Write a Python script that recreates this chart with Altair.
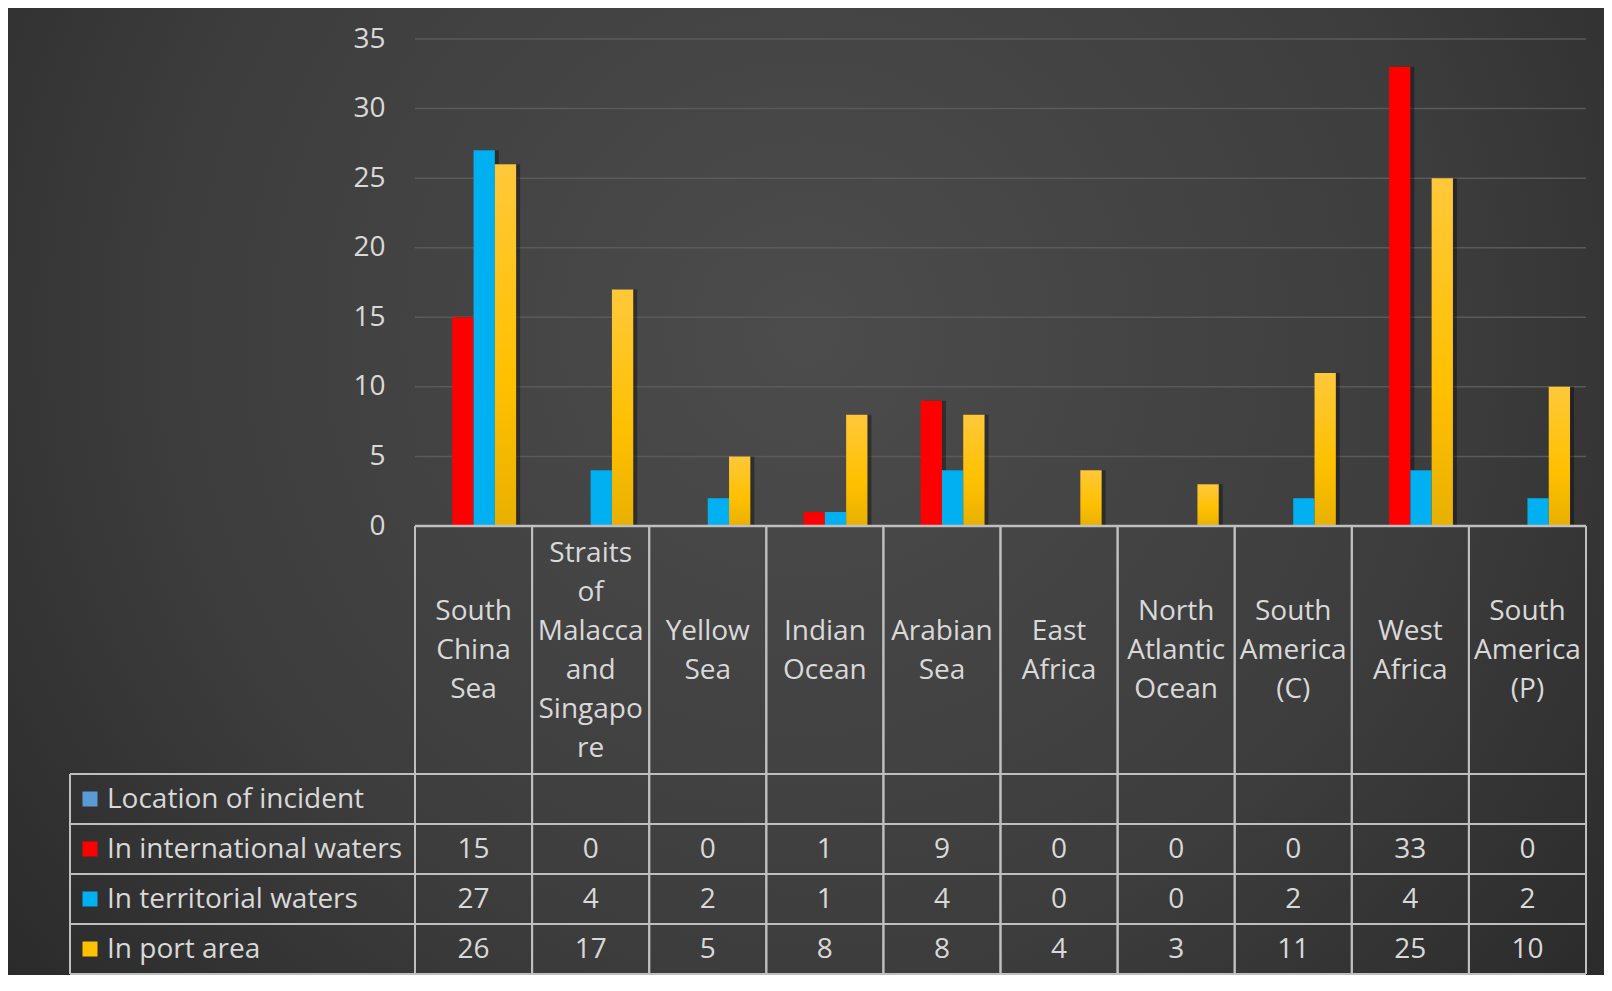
import altair as alt
import pandas as pd

# ---------------- data ----------------
categories = ["South China Sea", "Straits of Malacca and Singapore", "Yellow Sea",
              "Indian Ocean", "Arabian Sea", "East Africa", "North Atlantic Ocean",
              "South America (C)", "West Africa", "South America (P)"]
header_labels = ["South\nChina\nSea", "Straits\nof\nMalacca\nand\nSingapo\nre",
                 "Yellow\nSea", "Indian\nOcean", "Arabian\nSea", "East\nAfrica",
                 "North\nAtlantic\nOcean", "South\nAmerica\n(C)", "West\nAfrica",
                 "South\nAmerica\n(P)"]
series_names = ["Location of incident", "In international waters",
                "In territorial waters", "In port area"]
international = [15, 0, 0, 1, 9, 0, 0, 0, 33, 0]
territorial = [27, 4, 2, 1, 4, 0, 0, 2, 4, 2]
port_area = [26, 17, 5, 8, 8, 4, 3, 11, 25, 10]
series_colors = ["#5B9BD5", "#FF0000", "#00B0F0", "#FFC000"]
y_ticks = [0, 5, 10, 15, 20, 25, 30, 35]

# ---------------- layout ----------------
W = 1171          # plot width (category columns)
STEP = W / len(categories)
BAR_H = 487       # bar area height
HDR_H = 248       # header row of data table
ROW_H = 50        # data table row height
H = BAR_H + HDR_H + 4 * ROW_H
LEFT_COL = 345    # width of the series-name column
LINE_H = 39       # line height of wrapped header labels
SHADOW = 4        # bar shadow offset (px)
FONT = "Open Sans"
FS = 28
TXT = "#d9d9d9"
LINE = "#bfbfbf"

rows = []
for i, c in enumerate(categories):
    for s, vals in zip(series_names[1:], [international, territorial, port_area]):
        rows.append({"cat": c, "series": s, "value": vals[i]})
df = pd.DataFrame(rows)
cat_df = pd.DataFrame({"cat": categories, "label": header_labels})
cat_df["shift"] = [-(lbl.count("\n")) / 2 for lbl in header_labels]
ser_df = pd.DataFrame({"series": series_names})
tick_df = pd.DataFrame({"tick": y_ticks[1:]})
one_df = pd.DataFrame({"k": [0]})

x_scale = alt.Scale(domain=categories, paddingInner=0, paddingOuter=0)
y_bar = alt.Scale(domain=[0, 35], range=[BAR_H, 0], nice=False)
hdr_mid = BAR_H + HDR_H / 2 + 1
hdr_scale = alt.Scale(domain=[-1, 1], range=[hdr_mid - LINE_H, hdr_mid + LINE_H])
row_scale = alt.Scale(type="band", domain=series_names, range=[BAR_H + HDR_H, H],
                      paddingInner=0, paddingOuter=0)
color_scale = alt.Scale(domain=series_names, range=series_colors)
xoff = alt.XOffset("series:N", scale=alt.Scale(domain=series_names,
                                               paddingInner=0, paddingOuter=0.75))
xoff_shadow = alt.XOffset("series:N", scale=alt.Scale(
    domain=series_names, paddingInner=0, paddingOuter=0.75,
    range=[SHADOW, STEP + SHADOW]))

bg_grad = {"gradient": "radial", "x1": 0.5, "y1": 0.4, "r1": 0,
           "x2": 0.5, "y2": 0.4, "r2": 0.72,
           "stops": [{"offset": 0, "color": "#4c4c4c"},
                     {"offset": 0.55, "color": "#3d3d3d"},
                     {"offset": 1, "color": "#252525"}]}
gold_grad = {"gradient": "linear", "x1": 0, "y1": 0, "x2": 0, "y2": 1,
             "stops": [{"offset": 0, "color": "#FFC83A"},
                       {"offset": 0.6, "color": "#FFC000"},
                       {"offset": 1, "color": "#E8B000"}]}

bg = alt.Chart(one_df).mark_rect(fill=bg_grad).encode(
    x=alt.value(-407), x2=alt.value(W + 18), y=alt.value(-31), y2=alt.value(H + 1))

grid = alt.Chart(tick_df).mark_rule(color="#5a5a5a", strokeWidth=1.5).encode(
    y=alt.Y("tick:Q", scale=y_bar, axis=None), x=alt.value(0), x2=alt.value(W))

shadow = alt.Chart(df).mark_bar(color="#000000", opacity=0.35).encode(
    x=alt.X("cat:N", scale=x_scale, axis=None),
    xOffset=xoff_shadow,
    y=alt.Y("value:Q", scale=y_bar, axis=None))

bars = alt.Chart(df).transform_filter(alt.datum.series != "In port area").mark_bar().encode(
    x=alt.X("cat:N", scale=x_scale, axis=None),
    xOffset=xoff,
    y=alt.Y("value:Q", scale=y_bar,
            axis=alt.Axis(values=y_ticks, grid=False, domain=False, ticks=False,
                          labelFont=FONT, labelFontSize=FS, labelColor=TXT,
                          labelPadding=30, title=None, zindex=1)),
    color=alt.Color("series:N", scale=color_scale, legend=None))

gold = alt.Chart(df).transform_filter(alt.datum.series == "In port area").mark_bar(
    fill=gold_grad).encode(
    x=alt.X("cat:N", scale=x_scale, axis=None),
    xOffset=xoff,
    y=alt.Y("value:Q", scale=y_bar, axis=None))

vlines0 = alt.Chart(cat_df).mark_rule(color=LINE, strokeWidth=2).encode(
    x=alt.X("cat:N", scale=x_scale, axis=None, bandPosition=0),
    y=alt.value(BAR_H), y2=alt.value(H))
vlines1 = alt.Chart(cat_df).mark_rule(color=LINE, strokeWidth=2).encode(
    x=alt.X("cat:N", scale=x_scale, axis=None, bandPosition=1),
    y=alt.value(BAR_H), y2=alt.value(H))
axis_line = alt.Chart(one_df).mark_rule(color=LINE, strokeWidth=2.5).encode(
    y=alt.Y("k:Q", scale=y_bar, axis=None), x=alt.value(0), x2=alt.value(W))
row_top = alt.Chart(ser_df).mark_rule(color=LINE, strokeWidth=2).encode(
    y=alt.Y("series:N", scale=row_scale, axis=None, bandPosition=0),
    x=alt.value(-LEFT_COL), x2=alt.value(W))
row_bot = alt.Chart(ser_df).mark_rule(color=LINE, strokeWidth=2).encode(
    y=alt.Y("series:N", scale=row_scale, axis=None, bandPosition=1),
    x=alt.value(-LEFT_COL), x2=alt.value(W))
left_line = alt.Chart(one_df).mark_rule(color=LINE, strokeWidth=2).encode(
    x=alt.value(-LEFT_COL), y=alt.value(BAR_H + HDR_H), y2=alt.value(H))

hdr_text = alt.Chart(cat_df).mark_text(
    font=FONT, fontSize=FS, color=TXT, lineBreak="\n", lineHeight=LINE_H,
    align="center", baseline="middle").encode(
    x=alt.X("cat:N", scale=x_scale, axis=None, bandPosition=0.5),
    y=alt.Y("shift:Q", scale=hdr_scale, axis=None),
    text="label:N")

val_text = alt.Chart(df).mark_text(
    font=FONT, fontSize=FS, color=TXT, align="center", baseline="middle", dy=1).encode(
    x=alt.X("cat:N", scale=x_scale, axis=None, bandPosition=0.5),
    y=alt.Y("series:N", scale=row_scale, axis=None, bandPosition=0.5),
    text="value:Q")

ser_text = alt.Chart(ser_df).mark_text(
    font=FONT, fontSize=FS, color=TXT, align="left", baseline="middle", dy=1).encode(
    x=alt.value(-308),
    y=alt.Y("series:N", scale=row_scale, axis=None, bandPosition=0.5),
    text="series:N")

keys = alt.Chart(ser_df).mark_square(size=225, opacity=1, filled=True).encode(
    x=alt.value(-325),
    y=alt.Y("series:N", scale=row_scale, axis=None, bandPosition=0.5),
    color=alt.Color("series:N", scale=color_scale, legend=None))

chart = alt.layer(
    bg, grid, shadow, bars, gold, vlines0, vlines1, axis_line, row_top, row_bot,
    left_line, hdr_text, val_text, ser_text, keys
).resolve_scale(y="independent", xOffset="independent").properties(
    width=W, height=H, padding=0, background="#2a2a2a"
).configure_view(stroke=None)

chart.save("out.html", embed_options={"renderer": "svg", "actions": False})
